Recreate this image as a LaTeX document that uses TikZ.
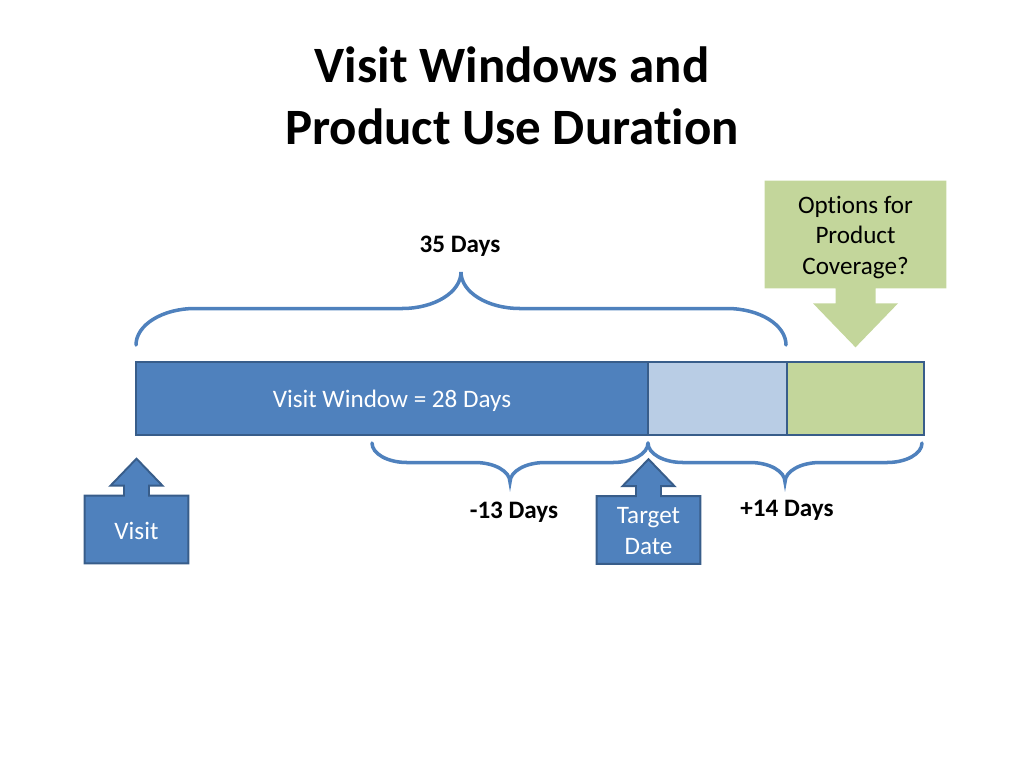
\documentclass[tikz,border=0pt]{standalone}
\usepackage{fontspec}
\setmainfont[Ligatures=NoCommon]{Carlito}
\usetikzlibrary{positioning,calc,backgrounds}
\definecolor{winblue}{HTML}{4F81BD}
\definecolor{edgeblue}{HTML}{385D8A}
\definecolor{extblue}{HTML}{B9CDE5}
\definecolor{covgreen}{HTML}{C3D69B}
\newcommand{\bodyfont}{\fontsize{14.3}{17.6}\selectfont}

\begin{document}
\begin{tikzpicture}[x=0.02cm, y=-0.02cm,
  seg/.style={draw=edgeblue, line width=1.1pt, minimum height=1.46cm, inner sep=0pt, outer sep=0pt, text depth=0pt, font=\bodyfont},
  callout/.style={fill=winblue, draw=edgeblue, line width=1.1pt},
  calloutbox/.style={minimum width=2.06cm, minimum height=1.34cm, inner sep=0pt, align=center, text=white, font=\bodyfont},
  brace line/.style={draw=winblue, line width=2pt, line cap=round},
  days/.style={font=\bodyfont\bfseries}]
\useasboundingbox (0,0) rectangle (1024,768);
% title
\node[font=\fontsize{29}{35}\selectfont\bfseries, align=center] (title) at (512,96) {Visit Windows and\\Product Use Duration};
% the bar
\node[seg, fill=winblue, text=white, minimum width=10.24cm] (win) at (392,398.5) {Visit Window = 28 Days};
\node[seg, fill=extblue, minimum width=2.78cm, right=0pt of win] (ext) {};
\node[seg, fill=covgreen, minimum width=2.74cm, right=0pt of ext] (cov) {};
% callouts
\node[calloutbox] (visit) at (136.5,530.5) {Visit};
\node[calloutbox] (target) at (648.5,531) {Target\\Date};
\node[minimum width=3.62cm, minimum height=2.14cm, inner sep=0pt,
  label={[font=\bodyfont, align=center, yshift=-0.06cm]center:Options for\\Product\\Coverage?}] (opts) at (855.5,234.5) {};
\begin{scope}[on background layer]
\foreach \c in {visit,target}
  \path[callout] ($(\c.south west)+(0,-1)$) -- ($(\c.north west)+(0,-1)$) -- ($(\c.north)+(-12.5,-1)$) -- ++(0,-10) -- ++(-13.5,0)
    -- ($(\c.north)+(0,-38)$) -- ($(\c.north)+(26,-11)$) -- ++(-13.5,0) -- ($(\c.north)+(12.5,-1)$)
    -- ($(\c.north east)+(0,-1)$) -- ($(\c.south east)+(0,-1)$) -- cycle;
\path[fill=covgreen] (opts.north west) -- (opts.north east) -- (opts.south east) -- ($(opts.south)+(20,0)$)
  -- ++(0,15) -- ++(22.5,0) -- ($(opts.south)+(0,59)$) -- ($(opts.south)+(-42.5,15)$) -- ++(22.5,0)
  -- ($(opts.south)+(-20,0)$) -- (opts.south west) -- cycle;
\end{scope}
% braces
\draw[brace line] (136,345) .. controls (136,324.9) and (162.4,308.5) .. (195,308.5) -- (402,308.5)
  .. controls (434.6,308.5) and (461,292.1) .. (461,272) .. controls (461,292.1) and (487.4,308.5) .. (520,308.5)
  -- (727,308.5) .. controls (759.6,308.5) and (786,324.9) .. (786,345);
\draw[brace line] (372,443) .. controls (372,453.8) and (387.7,462.5) .. (407,462.5) -- (475,462.5)
  .. controls (494.3,462.5) and (510,471.2) .. (510,482) .. controls (510,471.2) and (525.7,462.5) .. (545,462.5)
  -- (613,462.5) .. controls (632.3,462.5) and (648,453.8) .. (648,443);
\draw[brace line] (648,443) .. controls (648,453.8) and (663.7,462.5) .. (683,462.5) -- (750,462.5)
  .. controls (769.3,462.5) and (785,471.2) .. (785,482) .. controls (785,471.2) and (800.7,462.5) .. (820,462.5)
  -- (887,462.5) .. controls (906.3,462.5) and (922,453.8) .. (922,443);
% labels
\node[days] (total) at (460,246) {35 Days};
\node[days] (early) at (514,512) {-13 Days};
\node[days] (late) at (787,510) {+14 Days};
\end{tikzpicture}
\end{document}
